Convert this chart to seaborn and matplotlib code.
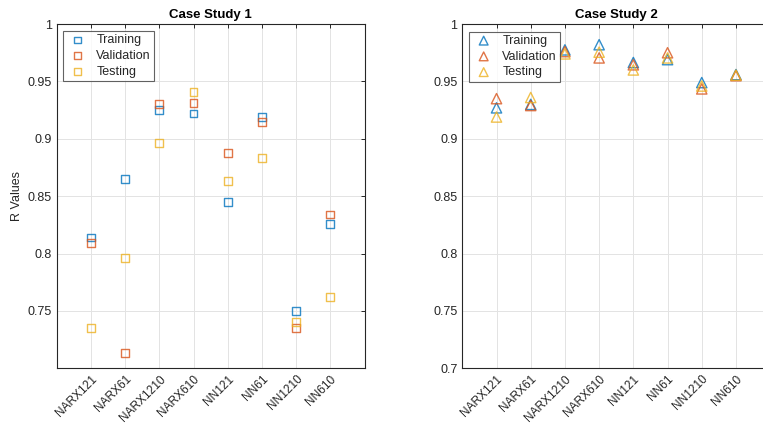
import numpy as np
import pandas as pd
import matplotlib
matplotlib.use("Agg")
import matplotlib.pyplot as plt
from matplotlib.ticker import FuncFormatter
import seaborn as sns

# Model names shared by both studies
models = ["NARX121", "NARX61", "NARX1210", "NARX610", "NN121", "NN61", "NN1210", "NN610"]
sets = ["Training", "Validation", "Testing"]

# Case study 1: regression R values per data split
cs1_training = [0.814, 0.865, 0.925, 0.922, 0.845, 0.919, 0.750, 0.826]
cs1_validation = [0.809, 0.713, 0.930, 0.931, 0.888, 0.915, 0.735, 0.834]
cs1_testing = [0.735, 0.796, 0.896, 0.941, 0.863, 0.883, 0.740, 0.762]

# Case study 2: regression R values per data split
cs2_training = [0.927, 0.930, 0.9775, 0.982, 0.9665, 0.969, 0.949, 0.956]
cs2_validation = [0.935, 0.929, 0.976, 0.9705, 0.9645, 0.975, 0.9435, 0.955]
cs2_testing = [0.919, 0.936, 0.974, 0.9755, 0.960, 0.9705, 0.946, 0.9555]

colors = {"Training": "#0072BD", "Validation": "#D95319", "Testing": "#EDB120"}
axis_gray = "#262626"


def long_frame(training, validation, testing):
    frames = []
    for name, vals in zip(sets, [training, validation, testing]):
        frames.append(pd.DataFrame({"Model": models, "R": vals, "Set": name}))
    return pd.concat(frames, ignore_index=True)


df1 = long_frame(cs1_training, cs1_validation, cs1_testing)
df2 = long_frame(cs2_training, cs2_validation, cs2_testing)

sns.set_theme(style="white")
plt.rcParams["font.family"] = ["Liberation Sans", "DejaVu Sans"]

fig = plt.figure(figsize=(7.63, 4.25), dpi=100)
ax1 = fig.add_axes([0.0743, 0.1334, 0.4035, 0.810])
ax2 = fig.add_axes([0.6059, 0.1334, 0.4035, 0.810])


def draw(ax, df, marker, size, title, yticks, legend_xy):
    for name in sets:
        sub = df[df["Set"] == name]
        sns.scatterplot(data=sub, x="Model", y="R", ax=ax, marker=marker, s=size,
                        facecolors="none", edgecolor=colors[name], linewidth=1.0,
                        alpha=0.8, label=name, zorder=3)
    ax.set_xlim(-1, len(models))
    ax.set_ylim(0.7, 1.0)
    ax.set_yticks(yticks)
    ax.yaxis.set_major_formatter(FuncFormatter(lambda v, p: f"{v:g}"))
    ax.set_xticks(range(len(models)))
    ax.set_xticklabels(models, rotation=45, ha="right", va="top",
                       rotation_mode="anchor", fontsize=8.6)
    ax.set_xlabel("")
    ax.set_ylabel("")
    ax.set_title(title, fontsize=9.5, fontweight="bold", color="black", pad=4)
    ax.grid(True, color="#e3e3e3", linewidth=0.7)
    ax.set_axisbelow(True)
    for sp in ax.spines.values():
        sp.set_color(axis_gray)
        sp.set_linewidth(0.8)
        sp.set_visible(True)
    ax.tick_params(axis="both", which="major", direction="in", length=3,
                   width=0.7, color=axis_gray, labelcolor=axis_gray,
                   top=True, right=True, pad=3.5)
    ax.tick_params(axis="y", labelsize=9)
    ax.tick_params(axis="x", pad=3.5)
    leg = ax.legend(loc="upper left", bbox_to_anchor=legend_xy, borderaxespad=0,
                    fontsize=9, frameon=True, fancybox=False, borderpad=0.25,
                    labelspacing=0.3, handlelength=1.8, handletextpad=0.6,
                    markerscale=0.85)
    leg.get_frame().set_edgecolor("#3c3c3c")
    leg.get_frame().set_linewidth(0.8)
    for t in leg.get_texts():
        t.set_color(axis_gray)


draw(ax1, df1, "s", 32, "Case Study 1", [0.75, 0.8, 0.85, 0.9, 0.95, 1.0], (0.0214, 0.9797))
draw(ax2, df2, "^", 55, "Case Study 2", [0.7, 0.75, 0.8, 0.85, 0.9, 0.95, 1.0], (0.0227, 0.9776))
ax1.set_ylabel("R Values", fontsize=9, color=axis_gray, labelpad=3)

fig.savefig("out.png", dpi=100)
